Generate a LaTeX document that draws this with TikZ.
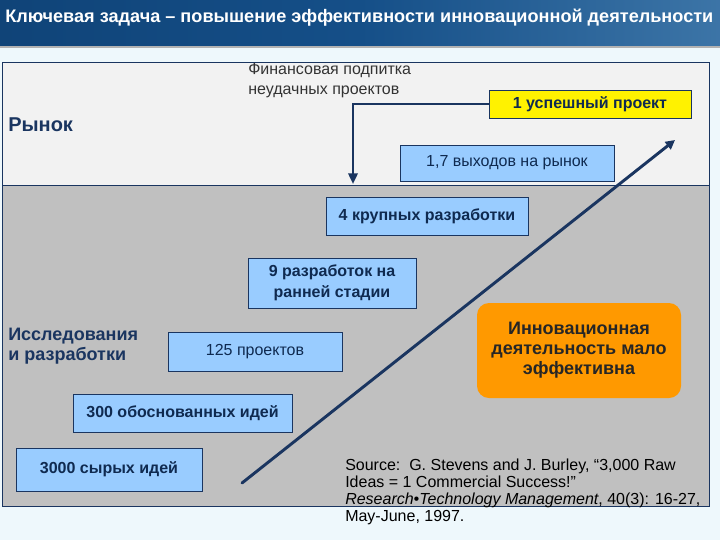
\documentclass[tikz,border=0pt]{standalone}
\usepackage{fontspec}
\setmainfont{Liberation Sans}
\usetikzlibrary{arrows.meta}
\definecolor{bgc}{HTML}{EEF8FC}
\definecolor{tA}{HTML}{0A3868}
\definecolor{tB}{HTML}{154F88}
\definecolor{tD}{HTML}{4A82B2}
\definecolor{tC}{HTML}{A8D0E8}
\definecolor{navy}{HTML}{1A3560}
\definecolor{boxblue}{HTML}{99CCFF}
\definecolor{topfill}{HTML}{F2F2F2}
\definecolor{botfill}{HTML}{C0C0C0}
\definecolor{orng}{HTML}{FF9900}
\definecolor{txtd}{HTML}{0F2A50}
\pgfdeclarehorizontalshading{titleshade}{100bp}{color(0bp)=(tA); color(50bp)=(tB); color(84bp)=(tD); color(100bp)=(tC)}
\tikzset{
  bx/.style={draw=navy, line width=0.6pt, fill=boxblue, inner sep=0pt, align=center, text=txtd, font=\fontsize{12}{15.75}\selectfont\bfseries},
  bxn/.style={bx, font=\fontsize{12}{15}\selectfont},
  lbl/.style={anchor=west, inner sep=0pt, align=left, text=navy, font=\fontsize{13.5}{15}\selectfont\bfseries},
  conn/.style={draw=navy, line width=2.2pt, -{Triangle[length=7pt,width=7pt]}},
}
\begin{document}
\begin{tikzpicture}[x=0.75pt,y=-0.75pt]
\useasboundingbox (0,0) rectangle (720,540);
\fill[bgc] (0,0) rectangle (720,540);
% title bar
\shade[shading=titleshade] (0,0) rectangle (720,46);
\fill[gray!60] (0,46) rectangle (720,48);
\node[anchor=west, inner sep=0pt, text=white] (title) at (5,18) {\resizebox{531pt}{!}{\bfseries Ключевая задача – повышение эффективности инновационной деятельности}};
% regions
\draw[navy, line width=0.6pt, fill=topfill] (2,62) rectangle (709,185);
\draw[navy, line width=0.6pt, fill=botfill] (2,185) rectangle (709,506);
% labels
\node[lbl, font=\fontsize{15}{18}\selectfont\bfseries] (market) at (8,125) {Рынок};
\node[lbl] (rd) at (8,346) {Исследования\\и разработки};
\node[anchor=north west, inner sep=0pt, align=left, text=black!80, font=\fontsize{12}{15}\selectfont] (fin) at (248,63) {Финансовая подпитка\\неудачных проектов};
% boxes
\node[bx, fill=yellow, minimum width=151.5pt, minimum height=21pt] (b1) at (590,104) {1 успешный проект};
\node[bxn, minimum width=160.5pt, minimum height=27pt] (b2) at (507,163) {1,7 выходов на рынок};
\node[bx, minimum width=151.5pt, minimum height=28.5pt] (b3) at (427,216) {4 крупных разработки};
\node[bx, minimum width=126pt, minimum height=37.5pt] (b4) at (332,283) {9 разработок на\\ранней стадии};
\node[bxn, minimum width=130.5pt, minimum height=29.25pt] (b5) at (255,351.5) {125 проектов};
\node[bx, minimum width=164.25pt, minimum height=28.5pt] (b6) at (182.5,413) {300 обоснованных идей};
\node[bx, minimum width=139.5pt, minimum height=32.25pt] (b7) at (109,469.5) {3000 сырых идей};
\node[fill=orng, rounded corners=9pt, inner sep=0pt, minimum width=153pt, minimum height=71.25pt, align=center, text=black!85, font=\fontsize{13.5}{15}\selectfont\bfseries] (ineff) at (579,350.5) {Инновационная\\деятельность мало\\эффективна};
% arrows
\coordinate (fund) at (353,184);
\draw[conn, line width=1.8pt, -{Triangle[length=8pt,width=7pt]}] (b1.west) -| (fund);
\coordinate (dstart) at (242,483);
\coordinate (dend) at (675,140);
\draw[conn, line cap=round] (dstart) -- (dend);
% source
\node[anchor=north west, inner sep=0pt, align=left, text=black, font=\fontsize{12}{12.75}\selectfont] (src) at (345,459) {Source:\ \ G. Stevens and J. Burley, “3,000 Raw\\Ideas = 1 Commercial Success!”\\\textit{Research•Technology Management}, 40(3): 16-27,\\May-June, 1997.};
\end{tikzpicture}
\end{document}
